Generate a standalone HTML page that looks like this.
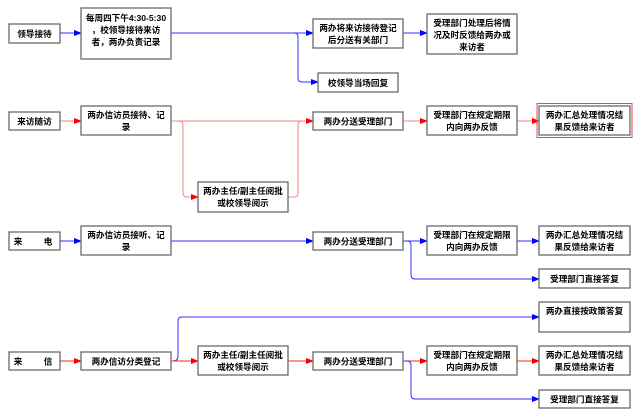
<!DOCTYPE html>
<html><head><meta charset="utf-8"><style>
html,body{margin:0;padding:0;background:#fff;width:640px;height:420px;overflow:hidden}
svg{display:block}
text{font-family:"Liberation Sans","Noto Sans CJK SC","WenQuanYi Zen Hei",sans-serif;font-size:8.6px;font-weight:bold;fill:#000;text-anchor:middle}
.b{fill:#fff;stroke:#6a6a6a;stroke-width:1.3}
.bl{fill:none;stroke:#3030ff;stroke-width:1}
.rd{fill:none;stroke:#ff8080;stroke-width:1}
.rs{fill:none;stroke:#ff2020;stroke-width:1}
</style></head><body>
<svg width="640" height="420" viewBox="0 0 640 420">
<defs>
<marker id="ab" markerWidth="8" markerHeight="6" refX="7" refY="3" orient="auto" markerUnits="userSpaceOnUse"><path d="M0,0L8,3L0,6z" fill="#0000ff"/></marker>
<marker id="ar" markerWidth="8" markerHeight="6" refX="7" refY="3" orient="auto" markerUnits="userSpaceOnUse"><path d="M0,0L8,3L0,6z" fill="#ff0000"/></marker>
</defs>

<path class="bl" d="M60,33H81" marker-end="url(#ab)"/>
<path class="bl" d="M171,33H313" marker-end="url(#ab)"/>
<path class="bl" d="M294,33Q298,33 298,37V78Q298,82 302,82H318" marker-end="url(#ab)"/>
<path class="bl" d="M403,33H427" marker-end="url(#ab)"/>

<path class="rd" d="M60,121H81" marker-end="url(#ar)"/>
<path class="rd" d="M171,121H313" marker-end="url(#ar)"/>
<path class="rd" d="M179,121Q183,121 183,125V193Q183,197 187,197H198" marker-end="url(#ar)"/>
<path class="rd" d="M288,197H294Q298,197 298,193V125Q298,121 302,121"/>
<path class="rd" d="M403,121H427" marker-end="url(#ar)"/>
<path class="rd" d="M517,121H539" marker-end="url(#ar)"/>

<path class="bl" d="M60,241H81" marker-end="url(#ab)"/>
<path class="bl" d="M171,241H313" marker-end="url(#ab)"/>
<path class="bl" d="M403,241H427" marker-end="url(#ab)"/>
<path class="bl" d="M517,241H539" marker-end="url(#ab)"/>
<path class="bl" d="M404,241H407Q411,241 411,245V275Q411,279 415,279H539" marker-end="url(#ab)"/>

<path class="bl" d="M173,361Q178,361 178,356V321Q178,317 182,317H539" marker-end="url(#ab)"/>
<path class="rs" d="M60,361H81" marker-end="url(#ar)"/>
<path class="rs" d="M171,361H198" marker-end="url(#ar)"/>
<path class="rs" d="M288,361H313" marker-end="url(#ar)"/>
<path class="rs" d="M403,361H427" marker-end="url(#ar)"/>
<path class="rs" d="M517,361H539" marker-end="url(#ar)"/>
<path class="bl" d="M404,361H407Q411,361 411,365V395Q411,399 415,399H539" marker-end="url(#ab)"/>

<rect class="b" x="9" y="24" width="51" height="19"/><text x="34.5" y="37">领导接待</text>
<rect class="b" x="81" y="8" width="90" height="51"/>
<text x="126" y="21">每周四下午4:30-5:30</text><text x="126" y="33">，校领导接待来访</text><text x="126" y="45">者，两办负责记录</text>
<rect class="b" x="313" y="19" width="90" height="29"/><text x="358" y="31">两办将来访接待登记</text><text x="358" y="43">后分送有关部门</text>
<rect class="b" x="427" y="14" width="90" height="40"/><text x="472" y="26">受理部门处理后将情</text><text x="472" y="38">况及时反馈给两办或</text><text x="472" y="50">来访者</text>
<rect class="b" x="318" y="73" width="80" height="19"/><text x="358" y="86">校领导当场回复</text>

<rect class="b" x="9" y="112" width="51" height="18"/><text x="34.5" y="124.5">来访随访</text>
<rect class="b" x="81" y="106" width="90" height="29"/><text x="126" y="118">两办信访员接待、记</text><text x="126" y="130">录</text>
<rect class="b" x="313" y="112" width="90" height="18"/><text x="358" y="124.5">两办分送受理部门</text>
<rect class="b" x="427" y="106" width="90" height="29"/><text x="472" y="118">受理部门在规定期限</text><text x="472" y="130">内向两办反馈</text>
<rect x="537" y="103.5" width="95" height="34" fill="none" stroke="#ff4040" stroke-width="1"/>
<rect class="b" x="539" y="106" width="91" height="29"/><text x="584.5" y="118">两办汇总处理情况结</text><text x="584.5" y="130">果反馈给来访者</text>
<rect class="b" x="198" y="182" width="90" height="30"/><text x="243" y="194">两办主任/副主任阅批</text><text x="243" y="206">或校领导阅示</text>

<rect class="b" x="9" y="232" width="51" height="18"/><text x="18" y="244.5">来</text><text x="48" y="244.5">电</text>
<rect class="b" x="81" y="226" width="90" height="29"/><text x="126" y="238">两办信访员接听、记</text><text x="126" y="250">录</text>
<rect class="b" x="313" y="232" width="90" height="18"/><text x="358" y="244.5">两办分送受理部门</text>
<rect class="b" x="427" y="226" width="90" height="29"/><text x="472" y="238">受理部门在规定期限</text><text x="472" y="250">内向两办反馈</text>
<rect class="b" x="539" y="226" width="91" height="29"/><text x="584.5" y="238">两办汇总处理情况结</text><text x="584.5" y="250">果反馈给来访者</text>
<rect class="b" x="539" y="269" width="91" height="19"/><text x="584.5" y="282">受理部门直接答复</text>

<rect class="b" x="539" y="302" width="91" height="30"/><text x="584.5" y="314">两办直接按政策答复</text>
<rect class="b" x="9" y="352" width="51" height="18"/><text x="18" y="364.5">来</text><text x="48" y="364.5">信</text>
<rect class="b" x="81" y="352" width="90" height="18"/><text x="126" y="364.5">两办信访分类登记</text>
<rect class="b" x="198" y="346" width="90" height="29"/><text x="243" y="358">两办主任/副主任阅批</text><text x="243" y="370">或校领导阅示</text>
<rect class="b" x="313" y="352" width="90" height="18"/><text x="358" y="364.5">两办分送受理部门</text>
<rect class="b" x="427" y="346" width="90" height="29"/><text x="472" y="358">受理部门在规定期限</text><text x="472" y="370">内向两办反馈</text>
<rect class="b" x="539" y="346" width="91" height="29"/><text x="584.5" y="358">两办汇总处理情况结</text><text x="584.5" y="370">果反馈给来访者</text>
<rect class="b" x="539" y="390" width="91" height="18"/><text x="584.5" y="402.5">受理部门直接答复</text>
</svg>
</body></html>
